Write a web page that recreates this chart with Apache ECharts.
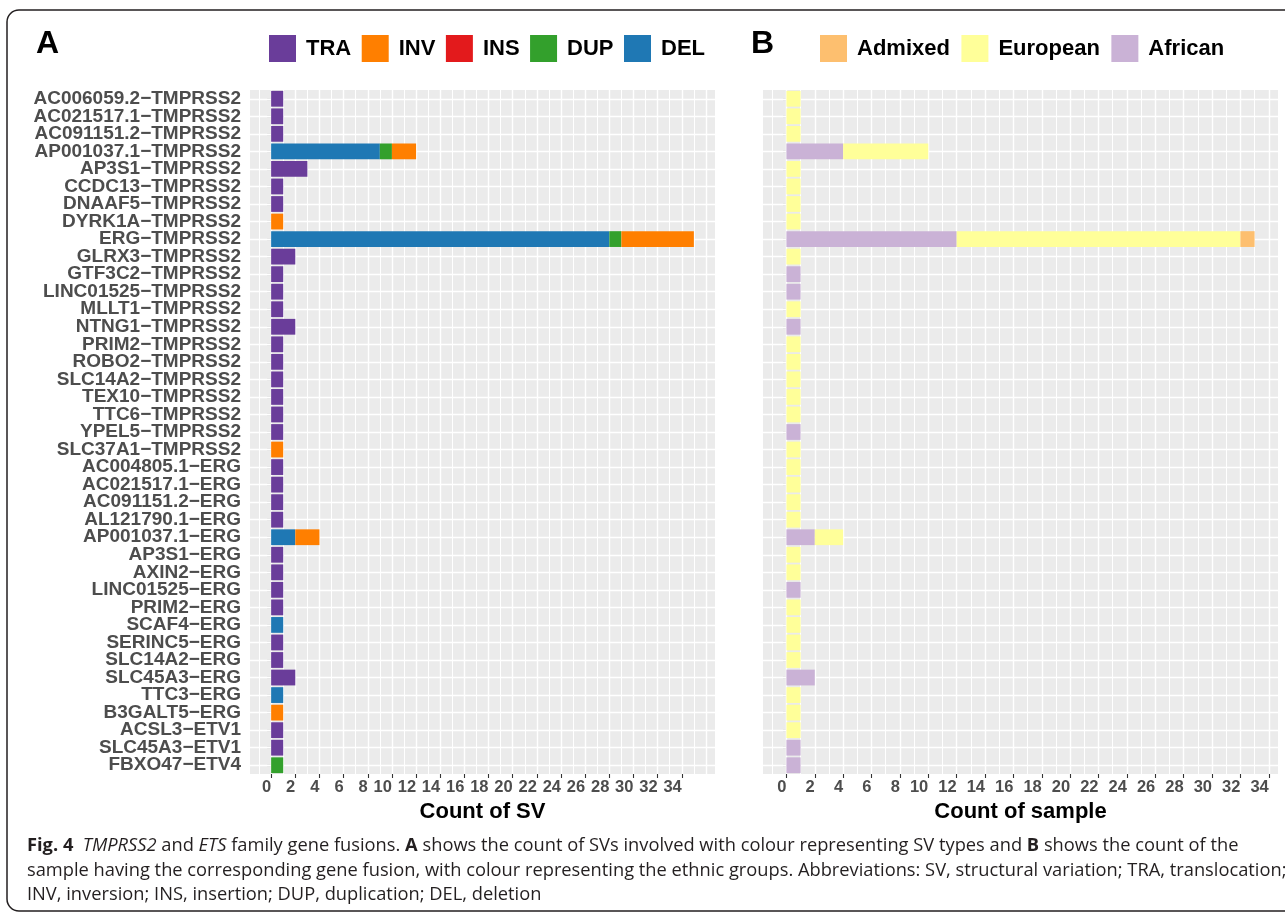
<!DOCTYPE html>
<html>
<head>
<meta charset="utf-8">
<script src="https://cdn.jsdelivr.net/npm/echarts@6/dist/echarts.min.js"></script>
<style>
html,body{margin:0;padding:0;background:#fff;}
#chart{width:1285px;height:919px;}
</style>
</head>
<body>
<div id="chart"></div>
<script>
// ---------- data ----------
const categories = [
  'AC006059.2−TMPRSS2','AC021517.1−TMPRSS2','AC091151.2−TMPRSS2','AP001037.1−TMPRSS2','AP3S1−TMPRSS2',
  'CCDC13−TMPRSS2','DNAAF5−TMPRSS2','DYRK1A−TMPRSS2','ERG−TMPRSS2','GLRX3−TMPRSS2',
  'GTF3C2−TMPRSS2','LINC01525−TMPRSS2','MLLT1−TMPRSS2','NTNG1−TMPRSS2','PRIM2−TMPRSS2',
  'ROBO2−TMPRSS2','SLC14A2−TMPRSS2','TEX10−TMPRSS2','TTC6−TMPRSS2','YPEL5−TMPRSS2',
  'SLC37A1−TMPRSS2','AC004805.1−ERG','AC021517.1−ERG','AC091151.2−ERG','AL121790.1−ERG',
  'AP001037.1−ERG','AP3S1−ERG','AXIN2−ERG','LINC01525−ERG','PRIM2−ERG',
  'SCAF4−ERG','SERINC5−ERG','SLC14A2−ERG','SLC45A3−ERG','TTC3−ERG',
  'B3GALT5−ERG','ACSL3−ETV1','SLC45A3−ETV1','FBXO47−ETV4'
];
// Panel A: count of SV by type
const TRA = [1,1,1,0,3,1,1,0,0,2, 1,1,1,2,1,1,1,1,1,1, 0,1,1,1,1,0,1,1,1,1, 0,1,1,2,0,0,1,1,0];
const INV = [0,0,0,2,0,0,0,1,6,0, 0,0,0,0,0,0,0,0,0,0, 1,0,0,0,0,2,0,0,0,0, 0,0,0,0,0,1,0,0,0];
const INS = [0,0,0,0,0,0,0,0,0,0, 0,0,0,0,0,0,0,0,0,0, 0,0,0,0,0,0,0,0,0,0, 0,0,0,0,0,0,0,0,0];
const DUP = [0,0,0,1,0,0,0,0,1,0, 0,0,0,0,0,0,0,0,0,0, 0,0,0,0,0,0,0,0,0,0, 0,0,0,0,0,0,0,0,1];
const DEL = [0,0,0,9,0,0,0,0,28,0, 0,0,0,0,0,0,0,0,0,0, 0,0,0,0,0,2,0,0,0,0, 1,0,0,0,1,0,0,0,0];
// Panel B: count of sample by ethnic group
const African  = [0,0,0,4,0,0,0,0,12,0, 1,1,0,1,0,0,0,0,0,1, 0,0,0,0,0,2,0,0,1,0, 0,0,0,2,0,0,0,1,1];
const European = [1,1,1,6,1,1,1,1,20,1, 0,0,1,0,1,1,1,1,1,0, 1,1,1,1,1,2,1,1,0,1, 1,1,1,0,1,1,1,0,0];
const Admixed  = [0,0,0,0,0,0,0,0,1,0, 0,0,0,0,0,0,0,0,0,0, 0,0,0,0,0,0,0,0,0,0, 0,0,0,0,0,0,0,0,0];
// tick labels
const xTicks = [0,2,4,6,8,10,12,14,16,18,20,22,24,26,28,30,32,34];
const gridA = [-1,0,1,2,3,4,5,6,7,8,9,10,11,12,13,14,15,16,17,18,19,20,21,22,23,24,25,26,27,28,29,30,31,32,33,34,35,36];
const gridB = [-1,0,1,2,3,4,5,6,7,8,9,10,11,12,13,14,15,16,17,18,19,20,21,22,23,24,25,26,27,28,29,30,31,32,33,34];

// ---------- styles ----------
const FONT = "'Liberation Sans', Arial, Helvetica, sans-serif";
const colors = {TRA:'#6A3D9A', INV:'#FF7F00', INS:'#E31A1C', DUP:'#33A02C', DEL:'#1F78B4',
  Admixed:'#FDBF6F', European:'#FFFF99', African:'#CAB2D6'};

function gridLines(xs) {
  const data = [];
  xs.forEach(v => data.push({xAxis: v, lineStyle: {width: (v % 2 === 0) ? 1.4 : 1.0}}));
  categories.forEach(c => data.push({yAxis: c, lineStyle: {width: 1.4}}));
  return {
    silent: true, symbol: 'none', z: 1, animation: false,
    label: {show: false},
    lineStyle: {color: '#FFFFFF', type: 'solid', width: 1.2},
    emphasis: {disabled: true},
    data: data
  };
}

function bar(name, data, xi, stack, ml) {
  const s = {
    name: name, type: 'bar', stack: stack, xAxisIndex: xi, yAxisIndex: xi,
    data: data, barWidth: '90%', z: 3,
    itemStyle: {color: colors[name]},
    emphasis: {disabled: true},
    animation: false
  };
  if (ml) s.markLine = ml;
  return s;
}

const xAxisCommon = (min, max, name, gi) => ({
  type: 'value', gridIndex: gi, min: min, max: max,
  splitLine: {show: false}, axisLine: {show: false},
  axisTick: {show: true, customValues: xTicks, length: 4, lineStyle: {color: '#333333', width: 1.1}},
  axisLabel: {customValues: xTicks, align: 'right', margin: 5, fontSize: 16.5, fontWeight: 'bold',
    color: '#4D4D4D', fontFamily: FONT},
  name: name, nameLocation: 'middle', nameGap: 25,
  nameTextStyle: {fontSize: 22, fontWeight: 'bold', color: '#000', fontFamily: FONT}
});

const yAxisCommon = (gi, showLabel) => ({
  type: 'category', gridIndex: gi, data: categories, inverse: true,
  axisLine: {show: false}, splitLine: {show: false},
  axisTick: {show: true, alignWithLabel: true, interval: 0, length: 4, lineStyle: {color: '#333333', width: 1.1}},
  axisLabel: {show: showLabel, interval: 0, margin: 9, fontSize: 19, fontWeight: 'bold',
    color: '#4D4D4D', fontFamily: FONT, lineHeight: 17}
});

const legendCommon = (left, data, gap) => ({
  left: left, top: 35, orient: 'horizontal', padding: 0,
  itemWidth: 27, itemHeight: 27, itemGap: gap, icon: 'rect',
  selectedMode: false, data: data,
  textStyle: {fontSize: 22, fontWeight: 'bold', color: '#000', fontFamily: FONT, padding: [0,0,0,5]}
});

const caption1 = '{b|Fig. 4}  {i|TMPRSS2} and {i|ETS} family gene fusions. {b|A} shows the count of SVs involved with colour representing SV types and {b|B} shows the count of the';
const caption2 = 'sample having the corresponding gene fusion, with colour representing the ethnic groups. Abbreviations: SV, structural variation; TRA, translocation;';
const caption3 = 'INV, inversion; INS, insertion; DUP, duplication; DEL, deletion';
const CAPFONT = "'Open Sans', Roboto, sans-serif";
const CAPSIZE = 18.3;
const capRich = {
  b: {fontWeight: 'bold', fontSize: CAPSIZE, fontFamily: CAPFONT, fill: '#231F20'},
  i: {fontStyle: 'italic', fontSize: CAPSIZE, fontFamily: CAPFONT, fill: '#231F20'}
};
function capText(t, y) {
  return {type: 'text', left: 27, top: y, silent: true, z: 10,
    style: {text: t, fontSize: CAPSIZE, fontFamily: CAPFONT, fill: '#231F20', rich: capRich}};
}

const option = {
  backgroundColor: '#FFFFFF',
  animation: false,
  grid: [
    {left: 250, top: 90, width: 465, height: 684, show: true, backgroundColor: '#EBEBEB', borderWidth: 0, containLabel: false},
    {left: 763, top: 90, width: 515, height: 684, show: true, backgroundColor: '#EBEBEB', borderWidth: 0, containLabel: false}
  ],
  xAxis: [xAxisCommon(-1.75, 36.75, 'Count of SV', 0), xAxisCommon(-1.65, 34.65, 'Count of sample', 1)],
  yAxis: [yAxisCommon(0, true), yAxisCommon(1, false)],
  legend: [
    legendCommon(269, ['TRA','INV','INS','DUP','DEL'], 10.5),
    legendCommon(820, ['Admixed','European','African'], 11.5)
  ],
  series: [
    bar('DEL', DEL, 0, 'a', gridLines(gridA)),
    bar('DUP', DUP, 0, 'a'),
    bar('INS', INS, 0, 'a'),
    bar('INV', INV, 0, 'a'),
    bar('TRA', TRA, 0, 'a'),
    bar('African', African, 1, 'b', gridLines(gridB)),
    bar('European', European, 1, 'b'),
    bar('Admixed', Admixed, 1, 'b')
  ],
  graphic: [
    {type: 'rect', silent: true, z: 0, shape: {x: 7, y: 10, width: 1320, height: 901, r: 12},
      style: {fill: 'none', stroke: '#231F20', lineWidth: 1.5}},
    {type: 'text', left: 36, top: 28, silent: true,
      style: {text: 'A', fontSize: 32, fontWeight: 'bold', fill: '#000', fontFamily: FONT}},
    {type: 'text', left: 751, top: 28, silent: true,
      style: {text: 'B', fontSize: 32, fontWeight: 'bold', fill: '#000', fontFamily: FONT}},
    capText(caption1, 837),
    capText(caption2, 862),
    capText(caption3, 886)
  ]
};

const chart = echarts.init(document.getElementById('chart'), null, {renderer: 'canvas'});
chart.setOption(option);
</script>
</body>
</html>
